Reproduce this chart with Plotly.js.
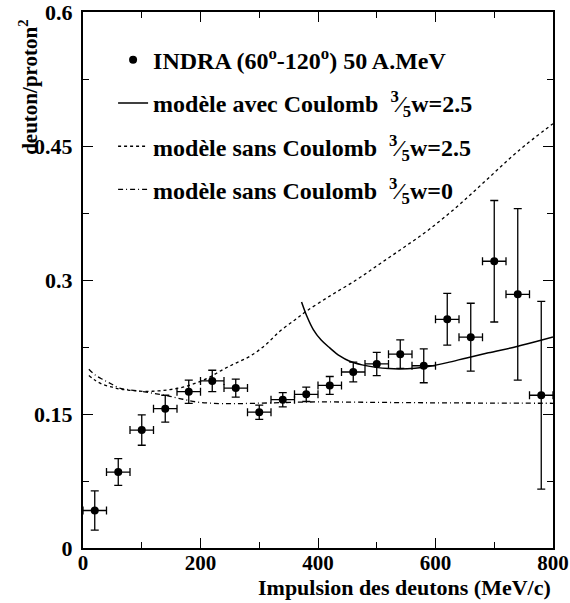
<!DOCTYPE html>
<html>
<head>
<meta charset="utf-8">
<script src="https://cdn.plot.ly/plotly-3.0.1.min.js"></script>
<style>html,body{margin:0;padding:0;background:#fff;}#chart{width:570px;height:603px;}</style>
</head>
<body>
<div id="chart"></div>
<script>
// INDRA data points
const dataX = [20, 60, 100, 140, 180, 220, 260, 300, 340, 380, 420, 460, 500, 540, 580, 620, 660, 700, 740, 780];
const dataY = [0.042, 0.085, 0.132, 0.156, 0.175, 0.187, 0.179, 0.152, 0.166, 0.172, 0.182, 0.197, 0.206, 0.217, 0.204, 0.256, 0.236, 0.321, 0.284, 0.171];
const dataErrY = [0.022, 0.015, 0.017, 0.015, 0.013, 0.012, 0.010, 0.008, 0.008, 0.008, 0.010, 0.011, 0.013, 0.016, 0.019, 0.029, 0.038, 0.068, 0.096, 0.105];
const dataErrX = [20, 20, 20, 20, 20, 20, 20, 20, 20, 20, 20, 20, 20, 20, 20, 20, 20, 20, 20, 20];

// modèle avec Coulomb 3/5 w=2.5
const avecX = [372, 382, 392, 405, 420, 437, 454, 475, 499, 520, 539, 565, 590, 620, 653, 690, 732, 765, 800];
const avecY = [0.2755, 0.258, 0.2445, 0.233, 0.224, 0.215, 0.209, 0.205, 0.2022, 0.2008, 0.2004, 0.2012, 0.2034, 0.2075, 0.2128, 0.2185, 0.2245, 0.230, 0.2363];

// modèle sans Coulomb 3/5 w=2.5
const sansX = [10, 20, 34, 50, 62, 80, 102, 125, 148, 170, 193, 215, 238, 260, 284, 310, 335, 360, 380, 420, 465, 505, 545, 590, 640, 690, 740, 800];
const sansY = [0.193, 0.188, 0.183, 0.180, 0.178, 0.1765, 0.1754, 0.1757, 0.1773, 0.180, 0.1848, 0.191, 0.1997, 0.207, 0.2146, 0.227, 0.2426, 0.255, 0.265, 0.282, 0.300, 0.318, 0.336, 0.357, 0.384, 0.414, 0.444, 0.475];

// modèle sans Coulomb 3/5 w=0
const w0X = [10, 20, 34, 50, 62, 80, 102, 125, 148, 170, 193, 215, 238, 270, 318, 397, 500, 600, 700, 800];
const w0Y = [0.200, 0.194, 0.1885, 0.183, 0.179, 0.177, 0.175, 0.1725, 0.1698, 0.1665, 0.1635, 0.1622, 0.1616, 0.1617, 0.1624, 0.1635, 0.1630, 0.1625, 0.1622, 0.1620];

const xTickVals = [0, 200, 400, 600, 800];
const xTickText = ['0', '200', '400', '600', '800'];
const yTickVals = [0, 0.15, 0.3, 0.45, 0.6];
const yTickText = ['0', '0.15', '0.3', '0.45', '0.6'];

const legendLabels = [
  'INDRA (60<sup>o</sup>-120<sup>o</sup>) 50 A.MeV',
  'modèle avec Coulomb  <sup>3</sup>⁄<sub>5</sub>w=2.5',
  'modèle sans Coulomb  <sup>3</sup>⁄<sub>5</sub>w=2.5',
  'modèle sans Coulomb  <sup>3</sup>⁄<sub>5</sub>w=0'
];
const xTitle = 'Impulsion des deutons (MeV/c)';
const yTitle = 'deuton/proton<sup>2</sup>';

const FONT = 'Liberation Serif';
const B = s => '<b>' + s + '</b>';

const traces = [
  {
    x: dataX, y: dataY, type: 'scatter', mode: 'markers', name: B(legendLabels[0]), legendgroup: 'a',
    marker: {color: '#000', size: 8},
    error_y: {type: 'data', array: dataErrY, visible: true, color: '#000', thickness: 1.3, width: 4},
    error_x: {type: 'data', array: dataErrX, visible: true, color: '#000', thickness: 1.3, width: 4}
  },
  {
    x: avecX, y: avecY, type: 'scatter', mode: 'lines', name: B(legendLabels[1]), legendgroup: 'b',
    line: {color: '#000', width: 1.5, shape: 'spline'}
  },
  {
    x: sansX, y: sansY, type: 'scatter', mode: 'lines', name: B(legendLabels[2]), legendgroup: 'c',
    line: {color: '#000', width: 1.3, dash: '3px,3px', shape: 'spline'}
  },
  {
    x: w0X, y: w0Y, type: 'scatter', mode: 'lines', name: B(legendLabels[3]), legendgroup: 'd',
    line: {color: '#000', width: 1.3, dash: '5px,3px,1px,3px', shape: 'spline'}
  }
];

const layout = {
  width: 570, height: 603,
  margin: {l: 83, r: 17, t: 12, b: 55},
  paper_bgcolor: '#fff', plot_bgcolor: '#fff',
  font: {family: FONT, color: '#000', size: 20},
  showlegend: true,
  legend: {
    x: 0.064, y: 0.952, xanchor: 'left', yanchor: 'top',
    bgcolor: 'rgba(0,0,0,0)', borderwidth: 0,
    font: {family: FONT, size: 24, color: '#000'},
    traceorder: 'grouped', tracegroupgap: 9
  },
  xaxis: {
    range: [0, 800], showgrid: false, zeroline: false,
    showline: true, linecolor: '#000', linewidth: 2, mirror: 'ticks',
    ticks: 'inside', ticklen: 10, tickwidth: 1, tickcolor: '#000',
    tickvals: xTickVals, ticktext: xTickText.map(B),
    tickfont: {family: FONT, size: 21, color: '#000'},
    ticklabelstandoff: -5, ticklabeloverflow: 'allow',
    minor: {ticks: 'inside', ticklen: 6, tickwidth: 1, tickcolor: '#000', dtick: 100, tick0: 0, showgrid: false}
  },
  yaxis: {
    range: [0, 0.6], showgrid: false, zeroline: false,
    showline: true, linecolor: '#000', linewidth: 2, mirror: 'ticks',
    ticks: 'inside', ticklen: 10, tickwidth: 1, tickcolor: '#000',
    tickvals: yTickVals, ticktext: yTickText.map(B),
    tickfont: {family: FONT, size: 22, color: '#000'},
    ticklabelstandoff: 4, ticklabeloverflow: 'allow',
    minor: {ticks: 'inside', ticklen: 6, tickwidth: 1, tickcolor: '#000', dtick: 0.075, tick0: 0, showgrid: false}
  },
  annotations: [
    {
      text: B(xTitle), xref: 'paper', yref: 'paper',
      x: 1, y: -0.046, xanchor: 'right', yanchor: 'top', showarrow: false,
      font: {family: FONT, size: 22, color: '#000'}
    },
    {
      text: B(yTitle), xref: 'paper', yref: 'paper',
      x: -0.115, y: 0.99, xanchor: 'center', yanchor: 'top', showarrow: false, textangle: -90,
      font: {family: FONT, size: 21, color: '#000'}
    }
  ]
};

Plotly.newPlot('chart', traces, layout, {displayModeBar: false, staticPlot: true});
</script>
</body>
</html>
